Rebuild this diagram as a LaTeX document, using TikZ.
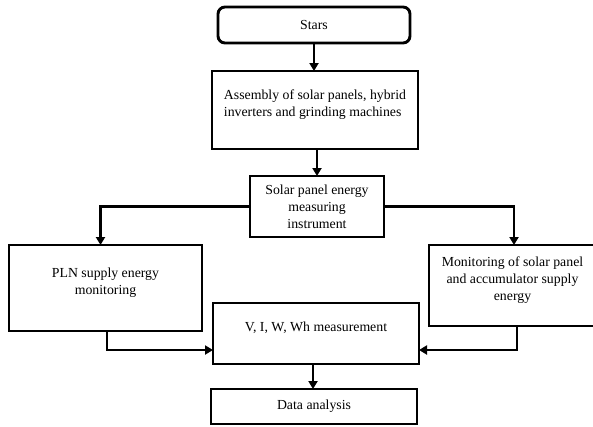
\documentclass[tikz,border=0pt]{standalone}
\usepackage{fontspec}
\setmainfont{Liberation Serif}
\usetikzlibrary{arrows.meta, positioning}

\begin{document}
\begin{tikzpicture}[x=1pt, y=-1pt, node distance=27pt, >={Triangle[length=8pt,width=9pt]}, line width=2.9pt,
  box/.style={rectangle, draw, line width=2.9pt, outer sep=0pt, inner sep=2pt, align=center, font=\fontsize{13.8}{17}\selectfont},
  uptext/.style={text depth=13pt}]
\useasboundingbox (0,0) rectangle (593,426);

% Main chain
\node[box, rounded corners=7pt, minimum width=192pt, minimum height=36pt] (stars) at (314,25) {Stars};
\node[box, uptext, align=left, minimum width=206pt, minimum height=78pt, below=28pt of stars, xshift=1pt] (assembly) {Assembly of solar panels, hybrid\\inverters and grinding machines};
\node[box, minimum width=134pt, minimum height=61pt, below=27pt of assembly, xshift=2pt] (instrument) {Solar panel energy\\measuring\\instrument};
\node[box, uptext, minimum width=206pt, minimum height=61pt, below=66pt of instrument, xshift=-1pt] (measure) {V, I, W, Wh measurement};
\node[box, minimum width=206pt, minimum height=35pt, below=25pt of measure, xshift=-2pt] (data) {Data analysis};

% Monitoring branches
\node[box, uptext, minimum width=193pt, minimum height=86pt] (pln) at (105.5,288) {PLN supply energy\\monitoring};
\node[box, uptext, minimum width=167pt, minimum height=81pt] (monitor) at (512.5,285.5) {Monitoring of solar panel\\and accumulator supply\\energy};

% Arrows for main chain
\draw[->] (stars.south) -- (stars.south |- assembly.north);
\draw[->] (instrument.north |- assembly.south) -- (instrument.north);
\draw[->] ([xshift=-3pt]measure.south) -- ([xshift=-3pt]measure.south |- data.north);

% Arrows for branches
\draw[->] (instrument.west) -| ([xshift=-5pt]pln.north);
\draw[->] (instrument.east) -| ([xshift=1.5pt]monitor.north);
\draw[->] ([xshift=1.5pt]pln.south) |- ([yshift=-16.5pt]measure.west);
\draw[->] ([xshift=4.5pt]monitor.south) |- ([yshift=-16.5pt]measure.east);
\end{tikzpicture}
\end{document}
